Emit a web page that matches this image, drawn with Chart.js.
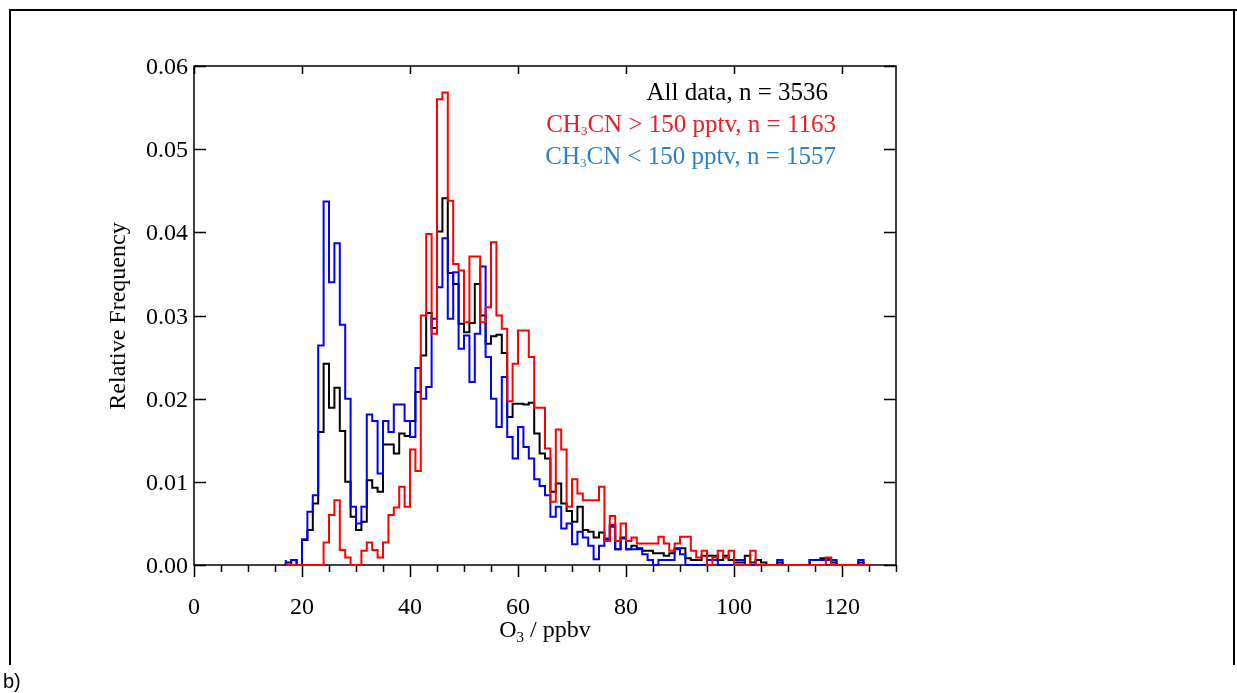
<!DOCTYPE html>
<html>
<head>
<meta charset="utf-8">
<script src="https://cdn.jsdelivr.net/npm/chart.js@4.4.1/dist/chart.umd.min.js"></script>
<style>
  html, body { margin: 0; padding: 0; background: #ffffff; }
  canvas { display: block; }
</style>
</head>
<body>
<canvas id="chart" width="1237" height="693"></canvas>
<script>
// Left edges of the 1 ppbv ozone bins
const binEdges = [
  17, 18, 19, 20, 21, 22, 23, 24, 25, 26, 27, 28, 29, 30, 31, 32, 33, 34, 35, 36,
  37, 38, 39, 40, 41, 42, 43, 44, 45, 46, 47, 48, 49, 50, 51, 52, 53, 54, 55, 56,
  57, 58, 59, 60, 61, 62, 63, 64, 65, 66, 67, 68, 69, 70, 71, 72, 73, 74, 75, 76,
  77, 78, 79, 80, 81, 82, 83, 84, 85, 86, 87, 88, 89, 90, 91, 92, 93, 94, 95, 96,
  97, 98, 99, 100, 101, 102, 103, 104, 105, 106, 107, 108, 109, 110, 111, 112, 113, 114, 115, 116,
  117, 118, 119, 120, 121, 122, 123, 124
];

// Relative frequency, all data (n = 3536)
const allData = [
  0.0003, 0.0003, 0.0006, 0.0000, 0.0030, 0.0042, 0.0074, 0.0160, 0.0242, 0.0189,
  0.0213, 0.0161, 0.0100, 0.0058, 0.0042, 0.0052, 0.0102, 0.0093, 0.0088, 0.0145,
  0.0145, 0.0134, 0.0158, 0.0155, 0.0173, 0.0208, 0.0252, 0.0303, 0.0285, 0.0401,
  0.0441, 0.0351, 0.0338, 0.0290, 0.0280, 0.0291, 0.0338, 0.0300, 0.0266, 0.0275,
  0.0277, 0.0255, 0.0178, 0.0194, 0.0194, 0.0193, 0.0195, 0.0158, 0.0134, 0.0128,
  0.0088, 0.0098, 0.0074, 0.0065, 0.0052, 0.0070, 0.0042, 0.0040, 0.0033, 0.0039,
  0.0030, 0.0048, 0.0019, 0.0033, 0.0019, 0.0023, 0.0020, 0.0017, 0.0017, 0.0014,
  0.0014, 0.0011, 0.0014, 0.0020, 0.0020, 0.0008, 0.0006, 0.0006, 0.0011, 0.0011,
  0.0011, 0.0006, 0.0011, 0.0006, 0.0003, 0.0003, 0.0011, 0.0003, 0.0006, 0.0003,
  0.0000, 0.0000, 0.0003, 0.0000, 0.0000, 0.0000, 0.0000, 0.0000, 0.0006, 0.0006,
  0.0008, 0.0008, 0.0003, 0.0000, 0.0000, 0.0000, 0.0000, 0.0003
];

// Relative frequency, CH3CN > 150 pptv (n = 1163)
const highCH3CN = [
  0.0000, 0.0000, 0.0000, 0.0000, 0.0000, 0.0000, 0.0000, 0.0000, 0.0027, 0.0060,
  0.0078, 0.0018, 0.0009, 0.0000, 0.0000, 0.0017, 0.0027, 0.0018, 0.0009, 0.0027,
  0.0060, 0.0069, 0.0094, 0.0070, 0.0139, 0.0113, 0.0300, 0.0398, 0.0278, 0.0560,
  0.0568, 0.0438, 0.0362, 0.0354, 0.0292, 0.0371, 0.0371, 0.0292, 0.0310, 0.0388,
  0.0300, 0.0284, 0.0197, 0.0242, 0.0282, 0.0282, 0.0250, 0.0189, 0.0189, 0.0140,
  0.0076, 0.0163, 0.0139, 0.0070, 0.0103, 0.0086, 0.0078, 0.0078, 0.0078, 0.0094,
  0.0029, 0.0059, 0.0029, 0.0050, 0.0029, 0.0033, 0.0026, 0.0026, 0.0026, 0.0026,
  0.0034, 0.0026, 0.0017, 0.0026, 0.0034, 0.0034, 0.0017, 0.0009, 0.0017, 0.0000,
  0.0009, 0.0017, 0.0009, 0.0017, 0.0000, 0.0000, 0.0000, 0.0017, 0.0000, 0.0000,
  0.0000, 0.0000, 0.0000, 0.0000, 0.0000, 0.0000, 0.0000, 0.0000, 0.0000, 0.0000,
  0.0000, 0.0009, 0.0000, 0.0000, 0.0000, 0.0000, 0.0000, 0.0000
];

// Relative frequency, CH3CN < 150 pptv (n = 1557)
const lowCH3CN = [
  0.0006, 0.0000, 0.0006, 0.0000, 0.0031, 0.0064, 0.0084, 0.0264, 0.0437, 0.0340,
  0.0387, 0.0289, 0.0200, 0.0070, 0.0050, 0.0070, 0.0181, 0.0173, 0.0110, 0.0173,
  0.0160, 0.0193, 0.0193, 0.0173, 0.0154, 0.0237, 0.0200, 0.0214, 0.0296, 0.0334,
  0.0393, 0.0296, 0.0352, 0.0260, 0.0276, 0.0220, 0.0278, 0.0359, 0.0250, 0.0200,
  0.0166, 0.0226, 0.0154, 0.0128, 0.0166, 0.0142, 0.0128, 0.0103, 0.0095, 0.0084,
  0.0058, 0.0070, 0.0044, 0.0050, 0.0025, 0.0040, 0.0033, 0.0023, 0.0007, 0.0023,
  0.0032, 0.0046, 0.0019, 0.0032, 0.0019, 0.0019, 0.0019, 0.0013, 0.0006, 0.0000,
  0.0006, 0.0006, 0.0006, 0.0019, 0.0013, 0.0000, 0.0000, 0.0000, 0.0000, 0.0006,
  0.0006, 0.0000, 0.0000, 0.0000, 0.0006, 0.0006, 0.0000, 0.0000, 0.0000, 0.0000,
  0.0000, 0.0000, 0.0006, 0.0000, 0.0000, 0.0000, 0.0000, 0.0000, 0.0006, 0.0006,
  0.0006, 0.0006, 0.0006, 0.0000, 0.0000, 0.0000, 0.0000, 0.0006
];

const xMajorTicks = [0, 20, 40, 60, 80, 100, 120];
const xMinorTicks = [5, 10, 15, 25, 30, 35, 45, 50, 55, 65, 70, 75, 85, 90, 95, 105, 110, 115, 125, 130];
const yTicks = [0.00, 0.01, 0.02, 0.03, 0.04, 0.05, 0.06];

const SERIF = '"Liberation Serif", "Times New Roman", serif';

// Turn a list of bin heights into the outline of a step histogram
function histogramPoints(values) {
  const pts = [{ x: binEdges[0], y: 0 }];
  binEdges.forEach((e, i) => pts.push({ x: e, y: values[i] }));
  pts.push({ x: binEdges[binEdges.length - 1] + 1, y: 0 });
  return pts;
}

// Draw a run of text pieces (for subscripts) with an optional horizontal squeeze
function drawRich(ctx, parts, x, y, align, sx) {
  let w = 0;
  parts.forEach(p => { ctx.font = p.font; p.w = ctx.measureText(p.t).width; w += p.w; });
  const start = align === 'right' ? x - w * sx : align === 'center' ? x - w * sx / 2 : x;
  ctx.save();
  ctx.translate(start, y);
  ctx.scale(sx, 1);
  ctx.textAlign = 'left';
  ctx.textBaseline = 'alphabetic';
  let cx = 0;
  parts.forEach(p => {
    ctx.font = p.font;
    ctx.fillStyle = p.color;
    ctx.fillText(p.t, cx, p.dy || 0);
    cx += p.w;
  });
  ctx.restore();
}

const frameAndText = {
  id: 'frameAndText',
  beforeDraw(chart) {
    const ctx = chart.ctx;
    ctx.save();
    ctx.fillStyle = '#ffffff';
    ctx.fillRect(0, 0, chart.width, chart.height);
    // page cell border
    ctx.strokeStyle = '#000000';
    ctx.lineWidth = 2;
    ctx.beginPath();
    ctx.moveTo(10, 665);
    ctx.lineTo(10, 10);
    ctx.lineTo(1237, 10);
    ctx.moveTo(1234, 10);
    ctx.lineTo(1234, 665);
    ctx.stroke();
    ctx.font = '20px "Liberation Sans", Arial, sans-serif';
    ctx.fillStyle = '#000000';
    ctx.textAlign = 'left';
    ctx.textBaseline = 'alphabetic';
    ctx.fillText('b)', 3, 688);
    ctx.restore();
  },
  beforeDatasetsDraw(chart) {
    const ctx = chart.ctx;
    const a = chart.chartArea;
    const xs = chart.scales.x, ys = chart.scales.y;
    ctx.save();
    ctx.strokeStyle = '#000000';
    ctx.lineWidth = 1.5;
    ctx.strokeRect(a.left, a.top, a.right - a.left, a.bottom - a.top);
    ctx.beginPath();
    // bottom axis: long major ticks, short minor ticks, pointing out
    xMajorTicks.forEach(v => {
      const px = Math.round(xs.getPixelForValue(v)) + 0.5;
      ctx.moveTo(px, a.bottom); ctx.lineTo(px, a.bottom + 12);
      ctx.moveTo(px, a.top); ctx.lineTo(px, a.top + 8);
    });
    xMinorTicks.forEach(v => {
      const px = Math.round(xs.getPixelForValue(v)) + 0.5;
      ctx.moveTo(px, a.bottom); ctx.lineTo(px, a.bottom + 7);
    });
    // left and right axes: ticks pointing in
    yTicks.forEach(v => {
      const py = Math.round(ys.getPixelForValue(v)) + 0.5;
      ctx.moveTo(a.left, py); ctx.lineTo(a.left + 12, py);
      ctx.moveTo(a.right, py); ctx.lineTo(a.right - 12, py);
    });
    ctx.stroke();

    const tickFont = '24px ' + SERIF;
    yTicks.forEach(v => {
      const py = ys.getPixelForValue(v);
      drawRich(ctx, [{ t: v.toFixed(2), font: tickFont, color: '#000' }], a.left - 6, py + 8, 'right', 1);
    });
    xMajorTicks.forEach(v => {
      const px = xs.getPixelForValue(v);
      drawRich(ctx, [{ t: String(v), font: tickFont, color: '#000' }], px, 614, 'center', 1);
    });

    // axis titles
    const titleFont = '24px ' + SERIF;
    const subFont = '15px ' + SERIF;
    drawRich(ctx, [
      { t: 'O', font: titleFont, color: '#000' },
      { t: '3', font: subFont, color: '#000', dy: 5 },
      { t: ' / ppbv', font: titleFont, color: '#000' }
    ], 545, 637, 'center', 1);

    ctx.save();
    ctx.translate(125, 316);
    ctx.rotate(-Math.PI / 2);
    drawRich(ctx, [{ t: 'Relative Frequency', font: '24px ' + SERIF, color: '#000' }], 0, 0, 'center', 1);
    ctx.restore();

    // series labels
    const legFont = '25px ' + SERIF;
    const legSub = '13px ' + SERIF;
    drawRich(ctx, [{ t: 'All data, n = 3536', font: legFont, color: '#000000' }], 828, 100, 'right', 1);
    const red = '#ee1c24', blue = '#2a7fc9';
    drawRich(ctx, [
      { t: 'CH', font: legFont, color: red },
      { t: '3', font: legSub, color: red, dy: 3 },
      { t: 'CN > 150 pptv, n = 1163', font: legFont, color: red }
    ], 836, 132, 'right', 1);
    drawRich(ctx, [
      { t: 'CH', font: legFont, color: blue },
      { t: '3', font: legSub, color: blue, dy: 3 },
      { t: 'CN < 150 pptv, n = 1557', font: legFont, color: blue }
    ], 836, 164, 'right', 1);
    ctx.restore();
  }
};

new Chart(document.getElementById('chart'), {
  type: 'line',
  data: {
    datasets: [
      { label: 'CH3CN > 150 pptv', data: histogramPoints(highCH3CN), borderColor: '#ff0000' },
      { label: 'CH3CN < 150 pptv', data: histogramPoints(lowCH3CN), borderColor: '#0000ff' },
      { label: 'All data', data: histogramPoints(allData), borderColor: '#000000' }
    ].map(d => Object.assign(d, {
      stepped: 'after',
      borderWidth: 2,
      pointRadius: 0,
      fill: false,
      clip: false,
      tension: 0
    }))
  },
  options: {
    responsive: false,
    animation: false,
    layout: { padding: { left: 194, top: 66, right: 341, bottom: 128 } },
    scales: {
      x: { type: 'linear', min: 0, max: 130, display: false },
      y: { type: 'linear', min: 0, max: 0.06, display: false }
    },
    plugins: { legend: { display: false }, tooltip: { enabled: false } }
  },
  plugins: [frameAndText]
});
</script>
</body>
</html>
